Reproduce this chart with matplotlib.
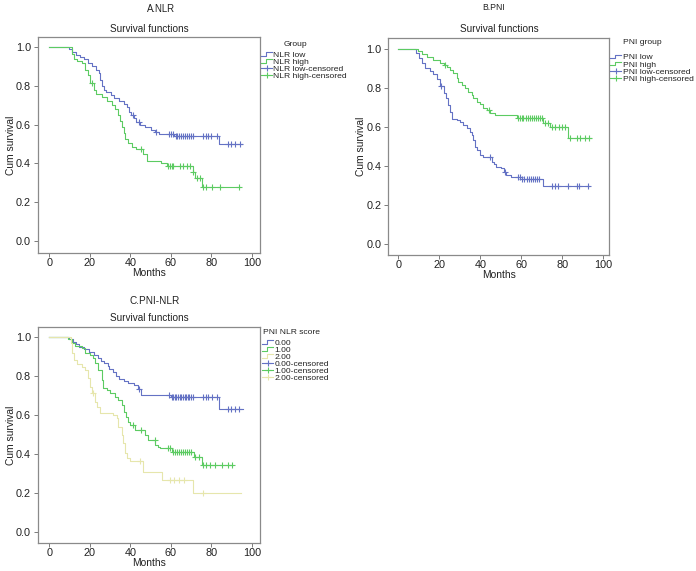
import numpy as np
import matplotlib
matplotlib.use('Agg')
import matplotlib.pyplot as plt
from matplotlib.lines import Line2D
from matplotlib.legend_handler import HandlerBase
from matplotlib.ticker import FormatStrFormatter

plt.rcParams['font.family'] = ['Liberation Sans', 'DejaVu Sans']

# ---- A. NLR ----
a_low_t = [9.5, 11, 13, 15, 17, 19, 21, 23, 24.5, 25.2, 26, 26.8, 28, 30.5, 32, 34.5, 37, 38.5,
           39.5, 40.5, 42, 43, 45, 47.5, 50, 52, 54, 61.5, 84]
a_low_s = [0.99, 0.975, 0.96, 0.95, 0.935, 0.915, 0.9, 0.88, 0.865, 0.83, 0.80, 0.78, 0.765, 0.75,
           0.735, 0.72, 0.705, 0.69, 0.665, 0.65, 0.635, 0.615, 0.6, 0.585, 0.57, 0.56, 0.55, 0.54, 0.50]
a_low_c = [41.5, 44.5, 52.5, 59, 60, 61, 62.5, 63, 64, 65, 66, 67, 68, 69, 70, 71, 76, 77.3, 78.6,
           79.7, 82.7, 88.4, 89.6, 91.7, 94.2]
a_low_end = 95

a_high_t = [11, 12, 13.5, 16, 17.5, 19, 20, 22, 23, 26, 28.5, 31, 32.5, 34, 35, 36, 36.8, 37.5, 39,
            41, 43, 46.5, 48.5, 55, 58, 70.8, 72, 75.3]
a_high_s = [0.965, 0.94, 0.925, 0.915, 0.88, 0.855, 0.815, 0.78, 0.755, 0.74, 0.72, 0.7, 0.68, 0.65,
            0.62, 0.585, 0.555, 0.525, 0.505, 0.485, 0.475, 0.45, 0.41, 0.40, 0.388, 0.357, 0.322, 0.276]
a_high_c = [21, 45.3, 58.8, 59.6, 60.5, 61.3, 64.6, 66.2, 67.9, 69.5, 71, 72.8, 74.5, 76.1, 77.3,
            80.2, 84.3, 93.9]
a_high_end = 94

# ---- B. PNI ----
b_low_t = [8.5, 9.8, 11.4, 13, 15.5, 17, 18.7, 20.3, 22, 23, 24.4, 25.2, 26, 28.5, 30, 31.7, 33.4,
           35, 35.8, 36.6, 37.4, 38.2, 39.8, 41.5, 45.5, 46.5, 47.6, 50, 51.5, 52.5, 55, 60.2, 70.5]
b_low_s = [0.98, 0.955, 0.93, 0.905, 0.89, 0.875, 0.85, 0.81, 0.775, 0.75, 0.715, 0.68, 0.645, 0.637,
           0.628, 0.611, 0.594, 0.577, 0.56, 0.535, 0.5, 0.483, 0.457, 0.449, 0.423, 0.41, 0.397,
           0.389, 0.37, 0.355, 0.345, 0.332, 0.30]
b_low_c = [21, 44.7, 51.8, 58.5, 59.5, 60.5, 61.5, 62.5, 63.5, 64.5, 65.5, 66.5, 67.5, 68.5, 74.8,
           76.4, 78, 82.9, 87, 88, 92.7]
b_low_end = 93.2

b_high_t = [9.5, 11.4, 13.8, 17, 20.3, 22, 23.6, 25.2, 26.8, 28.5, 29.3, 30.9, 32.5, 34.1, 35.8,
            36.6, 38.2, 39.8, 41.5, 43.1, 44.7, 47.2, 57.8, 70.7, 74, 82.6]
b_high_s = [0.99, 0.976, 0.962, 0.945, 0.93, 0.92, 0.91, 0.895, 0.877, 0.851, 0.834, 0.817, 0.8,
            0.783, 0.765, 0.748, 0.731, 0.72, 0.697, 0.688, 0.675, 0.661, 0.646, 0.623, 0.6, 0.543]
b_high_c = [22.5, 44, 58.5, 59.5, 60.3, 61, 62, 63, 64, 65, 66, 67, 68, 69, 70, 71.6, 73.2, 74.8,
            76.5, 78.1, 79.7, 81.3, 83.8, 87, 88.6, 91, 93.2]
b_high_end = 93.8

# ---- C. PNI-NLR ----
c0_t = [9.9, 11.6, 13.2, 14.8, 17.3, 19.8, 22.3, 23.9, 25.5, 27.2, 28.8, 29.6, 31.3, 32.9, 34.5,
        37, 38.7, 42, 43.6, 45.3, 60, 84]
c0_s = [0.993, 0.976, 0.964, 0.953, 0.941, 0.924, 0.907, 0.895, 0.881, 0.869, 0.855, 0.838, 0.821,
        0.804, 0.787, 0.778, 0.764, 0.757, 0.735, 0.703, 0.691, 0.63]
c0_c = [44.4, 59.3, 60.5, 61.2, 62, 62.8, 63.6, 64.4, 65.2, 66, 66.8, 67.6, 68.4, 69.2, 70, 71.2,
        76.1, 77.3, 78.6, 80.2, 82.7, 88.4, 89.6, 91.7, 93.9]
c0_end = 95.5

c1_t = [9.4, 11, 12.7, 16, 17.6, 20.1, 21.7, 22.6, 24.2, 25.9, 26.7, 28.3, 30, 32.5, 34.1, 35.7,
        36.9, 37.9, 39, 39.9, 42.3, 47.3, 48.9, 52.2, 53.9, 54.7, 60.5, 71.6, 75.3]
c1_s = [0.99, 0.97, 0.955, 0.943, 0.92, 0.909, 0.892, 0.866, 0.832, 0.78, 0.738, 0.729, 0.712,
        0.695, 0.678, 0.652, 0.617, 0.592, 0.566, 0.549, 0.523, 0.497, 0.472, 0.446, 0.437, 0.429,
        0.412, 0.383, 0.343]
c1_c = [41.5, 45.5, 52, 58.8, 59.5, 61, 62, 63, 64, 65, 66, 67, 68, 69, 70, 72, 74, 76.1, 77.4,
        79.4, 81.9, 85.2, 88.4, 90.1]
c1_end = 90.6

c2_t = [10.5, 11, 12, 13.5, 16, 17.6, 19.3, 20.1, 20.9, 22.6, 23.4, 25, 31.6, 33.3, 34.1, 35.7,
        36.6, 37.4, 38.2, 39.9, 46.5, 55.5, 71.1]
c2_s = [0.97, 0.92, 0.885, 0.865, 0.846, 0.832, 0.79, 0.746, 0.712, 0.67, 0.643, 0.609, 0.6, 0.583,
        0.54, 0.497, 0.455, 0.403, 0.377, 0.362, 0.309, 0.266, 0.198]
c2_c = [21.7, 45, 59.6, 61.5, 64, 66.5, 76.1]
c2_end = 94.5

BLUE = '#6472c4'
GREEN = '#5ccb62'
YELLOW = '#e6e6ac'
TXT = '#222222'


class StepHandler(HandlerBase):
    # little step glyph like the SPSS legend
    def create_artists(self, legend, orig_handle, xdescent, ydescent, width, height, fontsize, trans):
        x = np.array([0, 0.45, 0.45, 1.0]) * width - xdescent
        y = np.array([0.25, 0.25, 0.8, 0.8]) * height - ydescent
        ln = Line2D(x, y, color=orig_handle.get_color(), lw=0.8)
        ln.set_transform(trans)
        return [ln]


def surv_at(t_ev, s_ev, t):
    idx = np.searchsorted(t_ev, t, side='right')
    s = np.concatenate([[1.0], s_ev])
    return s[idx]


def km(ax, t_ev, s_ev, t_c, t_end, color):
    t = np.concatenate([[0], t_ev, [t_end]])
    s = np.concatenate([[1.0], s_ev, [s_ev[-1]]])
    ln, = ax.step(t, s, where='post', color=color, lw=0.8)
    ax.plot(t_c, surv_at(t_ev, s_ev, np.array(t_c)), ls='none', marker='+', color=color, ms=4, mew=0.8)
    return ln


def style(ax, xlim, ylim):
    ax.set_xlim(xlim)
    ax.set_ylim(ylim)
    ax.set_xticks(range(0, 101, 20))
    ax.set_yticks(np.arange(0, 1.01, 0.2))
    ax.yaxis.set_major_formatter(FormatStrFormatter('%.1f'))
    for sp in ax.spines.values():
        sp.set_color('#8a8a8a')
        sp.set_linewidth(0.9)
    ax.tick_params(length=3, width=0.6, color='#666666', labelsize=7.8, labelcolor=TXT)
    ax.tick_params(axis='x', pad=0.5)
    ax.tick_params(axis='y', pad=2)
    ax.set_xlabel('Months', fontsize=7.4, labelpad=0, color=TXT)
    ax.set_ylabel('Cum survival', fontsize=7.4, labelpad=0, color=TXT)
    ax.set_title('Survival functions', fontsize=7.2, pad=4, color=TXT)


def legend(ax, curves, colors, labels, title, title_xy, anchor, ha='center'):
    handles = list(curves)
    for c in colors:
        handles.append(Line2D([], [], color=c, lw=0.8, marker='+', ms=4, mew=0.8))
    hmap = {h: StepHandler() for h in curves}
    lg = ax.legend(handles, labels, loc='upper left', bbox_to_anchor=anchor,
                   frameon=False, fontsize=6.1, handlelength=1.3,
                   handletextpad=0.15, labelspacing=-0.1, borderpad=0, borderaxespad=0,
                   handler_map=hmap)
    for t in lg.get_texts():
        t.set_color(TXT)
    ax.text(title_xy[0], title_xy[1], title, transform=ax.transAxes, ha=ha, va='center',
            fontsize=6.1, color=TXT)
    return lg


fig = plt.figure(figsize=(6.96, 5.71), dpi=100)

axA = fig.add_axes([0.0546, 0.5569, 0.319, 0.378])
l1 = km(axA, a_low_t, a_low_s, a_low_c, a_low_end, BLUE)
l2 = km(axA, a_high_t, a_high_s, a_high_c, a_high_end, GREEN)
style(axA, (-5.6, 104.1), (-0.062, 1.05))
legend(axA, [l1, l2], [BLUE, GREEN],
       ['NLR low', 'NLR high', 'NLR low-censored', 'NLR high-censored'], 'Group',
       (1.158, 0.968), (1.005, 0.935))
fig.text(161 / 696, 1 - 9 / 571, 'A.NLR', ha='center', va='center', fontsize=6.9, color=TXT)

axB = fig.add_axes([0.558, 0.5534, 0.3175, 0.3806])
l1 = km(axB, b_low_t, b_low_s, b_low_c, b_low_end, BLUE)
l2 = km(axB, b_high_t, b_high_s, b_high_c, b_high_end, GREEN)
style(axB, (-4.9, 102.9), (-0.056, 1.06))
legend(axB, [l1, l2], [BLUE, GREEN],
       ['PNI low', 'PNI high', 'PNI low-censored', 'PNI high-censored'], 'PNI group',
       (1.147, 0.976), (1.005, 0.927))
fig.text(494 / 696, 1 - 8 / 571, 'B.PNI', ha='center', va='center', fontsize=6.2, color=TXT)

axC = fig.add_axes([0.0546, 0.049, 0.319, 0.3788])
l1 = km(axC, c0_t, c0_s, c0_c, c0_end, BLUE)
l2 = km(axC, c1_t, c1_s, c1_c, c1_end, GREEN)
l3 = km(axC, c2_t, c2_s, c2_c, c2_end, YELLOW)
style(axC, (-5.6, 104.1), (-0.058, 1.055))
legend(axC, [l1, l2, l3], [BLUE, GREEN, YELLOW],
       ['0.00', '1.00', '2.00', '0.00-censored', '1.00-censored', '2.00-censored'],
       'PNI NLR score', (1.0135, 0.972), (1.01, 0.943), ha='left')
fig.text(155 / 696, 1 - 301 / 571, 'C.PNI-NLR', ha='center', va='center', fontsize=7.2, color=TXT)

fig.savefig('out.png', dpi=100)
